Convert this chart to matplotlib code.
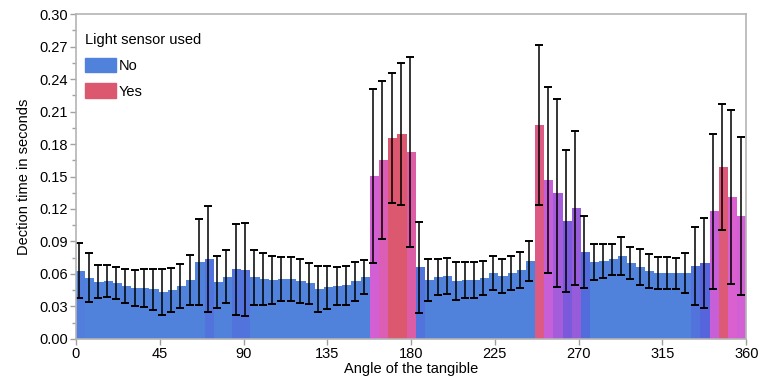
import numpy as np
import matplotlib
matplotlib.use("Agg")
from matplotlib import pyplot as plt
from matplotlib.colors import LinearSegmentedColormap
from matplotlib.patches import Patch

plt.rcParams['font.family'] = ['Liberation Sans', 'DejaVu Sans']

# angle bins (degrees) and mean detection time (s)
angles = np.arange(0, 361, 5)
mean_time = [
    0.0630, 0.0565, 0.0530, 0.0534, 0.0518, 0.0488, 0.0470, 0.0470, 0.0460, 0.0433,
    0.0451, 0.0488, 0.0545, 0.0710, 0.0738, 0.0525, 0.0574, 0.0645, 0.0638, 0.0568,
    0.0553, 0.0545, 0.0553, 0.0553, 0.0535, 0.0516, 0.0460, 0.0479, 0.0488, 0.0497,
    0.0534, 0.0571, 0.1505, 0.1653, 0.1856, 0.1893, 0.1726, 0.0664, 0.0544, 0.0571,
    0.0580, 0.0534, 0.0544, 0.0544, 0.0562, 0.0608, 0.0580, 0.0608, 0.0636, 0.0719,
    0.1976, 0.1468, 0.1348, 0.1089, 0.1209, 0.0802, 0.0710, 0.0719, 0.0738, 0.0765,
    0.0701, 0.0664, 0.0627, 0.0608, 0.0608, 0.0608, 0.0608, 0.0673, 0.0701, 0.1181,
    0.1588, 0.1310, 0.1135,
]
# half length of the error bars
err_time = [
    0.0255, 0.0228, 0.0156, 0.0150, 0.0151, 0.0160, 0.0167, 0.0175, 0.0190, 0.0210,
    0.0200, 0.0205, 0.0228, 0.0400, 0.0490, 0.0240, 0.0245, 0.0420, 0.0430, 0.0254,
    0.0242, 0.0223, 0.0207, 0.0203, 0.0204, 0.0190, 0.0215, 0.0199, 0.0178, 0.0180,
    0.0180, 0.0160, 0.0800, 0.0730, 0.0600, 0.0657, 0.0878, 0.0420, 0.0196, 0.0163,
    0.0167, 0.0175, 0.0165, 0.0165, 0.0160, 0.0157, 0.0158, 0.0160, 0.0168, 0.0185,
    0.0735, 0.0860, 0.0864, 0.0660, 0.0713, 0.0330, 0.0168, 0.0157, 0.0143, 0.0174,
    0.0148, 0.0168, 0.0156, 0.0150, 0.0150, 0.0144, 0.0183, 0.0362, 0.0413, 0.0716,
    0.0580, 0.0805, 0.0726,
]
# share of trials where the light sensor was used (drives bar colour)
share_light = np.zeros(len(angles))
share_light[[0]] = 0.03
share_light[[14, 17, 18, 37, 67]] = 0.08
share_light[[55]] = 0.12
share_light[[68]] = 0.16
share_light[[53]] = 0.30
share_light[[54]] = 0.42
share_light[[52]] = 0.47
share_light[[51, 69]] = 0.60
share_light[[32, 72]] = 0.66
share_light[[71]] = 0.70
share_light[[33]] = 0.80
share_light[[36]] = 0.84
share_light[[50]] = 0.94
share_light[[70]] = 0.97
share_light[[34, 35]] = 1.0

legend_labels = ['No', 'Yes']
color_no = '#5082DC'
color_yes = '#DC586E'

cmap = LinearSegmentedColormap.from_list('light', [
    (0.0, color_no), (0.15, '#5466DC'), (0.30, '#7A5ADA'), (0.45, '#9E5CDA'),
    (0.60, '#C75FD8'), (0.70, '#DA5FD0'), (0.82, '#DC5CAE'), (0.94, '#DC5A84'),
    (1.0, color_yes)])

n = len(angles)
width = 360 / n
pos = (np.arange(n) + 0.5) * width

fig = plt.figure(figsize=(7.66, 3.80), dpi=100)
ax = fig.add_axes([0.0992, 0.108, 0.875, 0.855])

ax.bar(pos, mean_time, width=width, color=cmap(share_light), linewidth=0)
ax.errorbar(pos - 0.6, mean_time, yerr=err_time, fmt='none', ecolor='black',
            elinewidth=1.1, capsize=2.6, capthick=1.4)

ax.set_xlim(0, 360)
ax.set_ylim(0, 0.30)
ax.set_xticks(np.arange(0, 361, 45))
ax.set_yticks(np.arange(0, 0.301, 0.03))
ax.set_yticks(np.arange(0.015, 0.30, 0.03), minor=True)
ax.yaxis.set_major_formatter(matplotlib.ticker.FormatStrFormatter('%.2f'))
ax.tick_params(axis='both', which='both', direction='out', color='#A0A0A0',
               labelsize=10.5, length=4, width=1, pad=1.5)
ax.tick_params(axis='y', which='minor', length=3)
for s in ax.spines.values():
    s.set_color('#B4B4B4')
    s.set_linewidth(1.2)

ax.set_xlabel('Angle of the tangible', fontsize=10.5, labelpad=1)
ax.set_ylabel('Dection time in seconds', fontsize=10.5, labelpad=6)

handles = [Patch(color=color_no), Patch(color=color_yes)]
leg = ax.legend(handles, legend_labels, title='Light sensor used', loc='upper left',
                bbox_to_anchor=(0.0, 0.97),
                frameon=False, fontsize=10.5, title_fontsize=10.5, alignment='left',
                handlelength=2.1, handleheight=1.15, handletextpad=0.15,
                labelspacing=0.72, borderaxespad=0.35, borderpad=0.3)

fig.savefig('out.png', dpi=100)
